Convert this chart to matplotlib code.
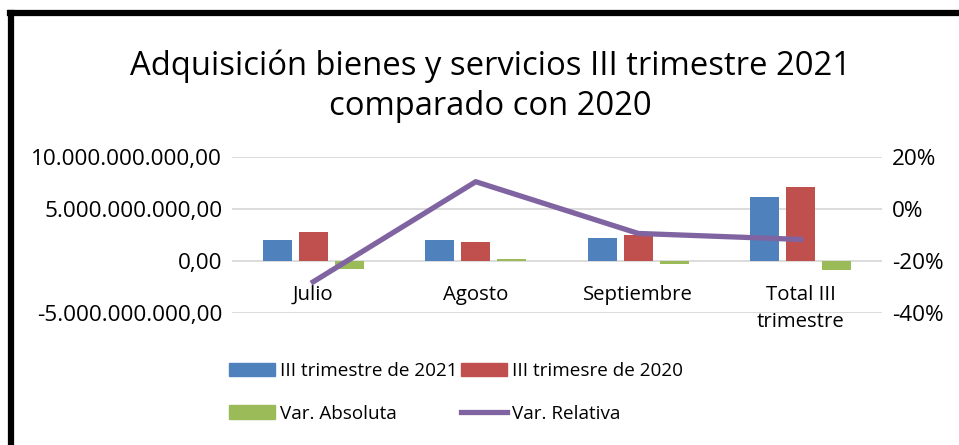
import matplotlib
matplotlib.use('Agg')
import matplotlib.pyplot as plt
from matplotlib.lines import Line2D
from matplotlib.patches import Patch
from matplotlib.ticker import FuncFormatter
import numpy as np

plt.rcParams['font.family'] = ['Open Sans', 'DejaVu Sans']

# Values
categories = ['Julio', 'Agosto', 'Septiembre', 'Total III\ntrimestre']
trim_2021 = [2.0e9, 2.0e9, 2.2e9, 6.2e9]
trim_2020 = [2.8e9, 1.8e9, 2.5e9, 7.1e9]
var_abs = [-0.8e9, 0.2e9, -0.3e9, -0.85e9]
var_rel = [-0.28, 0.105, -0.094, -0.117]

series_labels = ['III trimestre de 2021', 'III trimesre de 2020', 'Var. Absoluta', 'Var. Relativa']
title = 'Adquisición bienes y servicios III trimestre 2021\ncomparado con 2020'

BLUE, RED, GREEN, PURPLE = '#4F81BD', '#C0504D', '#9BBB59', '#8064A2'
TICK_FS, CAT_FS, LEG_FS = 16.2, 14.7, 13.6


def es_number(v, pos=None):
    # Spanish style: dot thousands, comma decimals
    s = f'{v:,.2f}'
    return s.replace(',', 'X').replace('.', ',').replace('X', '.')


fig = plt.figure(figsize=(9.59, 4.45), dpi=100)
ax = fig.add_axes([0.2419, 0.2966, 0.6778, 0.3506])
ax2 = ax.twinx()

x = np.arange(len(categories))
width, step = 0.178, 0.2215
ax.bar(x - step, trim_2021, width, color=BLUE, zorder=3)
ax.bar(x, trim_2020, width, color=RED, zorder=3)
ax.bar(x + step, var_abs, width, color=GREEN, zorder=3)

ax.set_ylim(-5e9, 10e9)
ax.set_yticks([-5e9, 0, 5e9, 10e9])
ax.yaxis.set_major_formatter(FuncFormatter(es_number))
ax.set_xlim(-0.5, len(categories) - 0.5)
ax.set_xticks([])
ax.grid(axis='y', color='#D9D9D9', linewidth=1.3, zorder=0)
ax.tick_params(axis='y', length=0, labelsize=TICK_FS, pad=7)

ax2.plot(x, var_rel, color=PURPLE, linewidth=3.8, zorder=4)
ax2.set_ylim(-0.4, 0.2)
ax2.set_yticks([-0.4, -0.2, 0, 0.2])
ax2.yaxis.set_major_formatter(FuncFormatter(lambda v, p: f'{v * 100:.0f}%'))
ax2.tick_params(axis='y', length=0, labelsize=TICK_FS, pad=7)

for a in (ax, ax2):
    for sp in a.spines.values():
        sp.set_visible(False)

for i, cat in enumerate(categories):
    ax.annotate(cat, (i, 0), xytext=(0, -24), textcoords='offset pixels',
                ha='center', va='top', fontsize=CAT_FS, linespacing=1.45)

fig.text(0.511, 0.806, title, ha='center', va='center', fontsize=23.6, linespacing=1.3)

handles = [Patch(color=BLUE, label=series_labels[0]),
           Patch(color=GREEN, label=series_labels[2]),
           Patch(color=RED, label=series_labels[1]),
           Line2D([], [], color=PURPLE, linewidth=3.8, label=series_labels[3])]
fig.legend(handles=handles, ncol=2, loc='center', bbox_to_anchor=(0.4755, 0.118),
           frameon=False, fontsize=LEG_FS, handlelength=2.45, handleheight=0.75,
           handletextpad=0.25, columnspacing=0.2, labelspacing=1.32)

# Black border on the top and left edges, as in the screenshot
fig.add_artist(Line2D([0.0105, 1.0], [1 - 13 / 445] * 2, color='black', linewidth=4.5,
                      transform=fig.transFigure))
fig.add_artist(Line2D([10.5 / 959] * 2, [0, 1 - 13 / 445], color='black', linewidth=4.5,
                      transform=fig.transFigure))

fig.savefig('out.png', dpi=100)
